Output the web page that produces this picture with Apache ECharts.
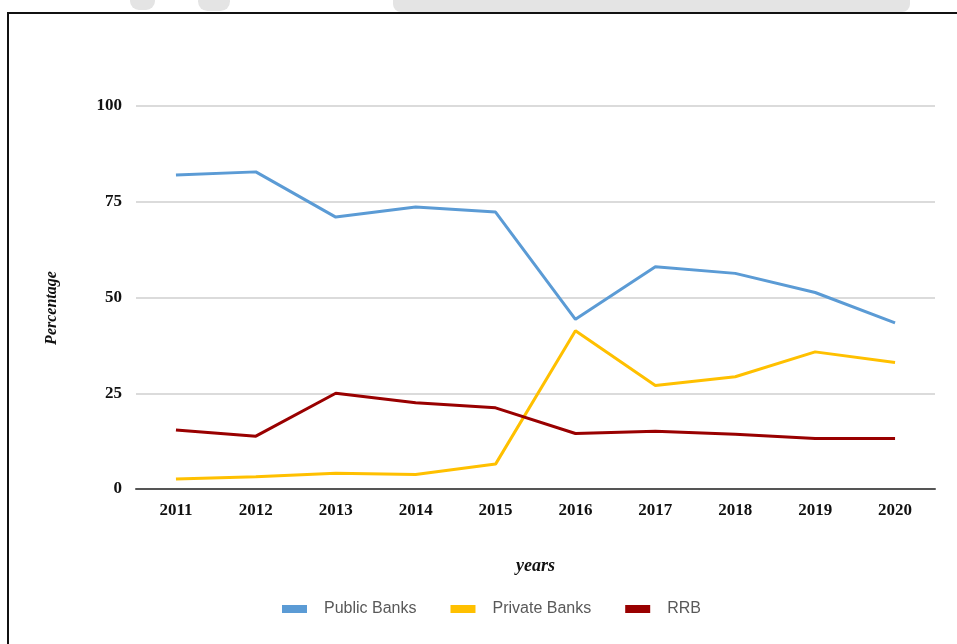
<!DOCTYPE html>
<html>
<head>
<meta charset="utf-8">
<script src="https://cdn.jsdelivr.net/npm/echarts@6/dist/echarts.min.js"></script>
<style>
html,body{margin:0;padding:0;background:#fff;}
#c{width:957px;height:644px;}
</style>
</head>
<body>
<div id="c"></div>
<script>
const years = ['2011','2012','2013','2014','2015','2016','2017','2018','2019','2020'];
const publicBanks = [82.0, 82.8, 71.0, 73.6, 72.3, 44.3, 58.0, 56.3, 51.3, 43.4];
const privateBanks = [2.6, 3.2, 4.1, 3.8, 6.5, 41.3, 27.0, 29.3, 35.8, 33.0];
const rrb = [15.4, 13.8, 25.0, 22.5, 21.2, 14.5, 15.1, 14.3, 13.2, 13.2];
const yTicks = [0, 25, 50, 75, 100];

const chart = echarts.init(document.getElementById('c'));
const serif = '"Liberation Serif", "DejaVu Serif", serif';
chart.setOption({
  animation: false,
  backgroundColor: '#fff',
  graphic: [
    {type:'rect', shape:{x:130,y:-8,width:25,height:18,r:12}, style:{fill:'#e4e4e4'}},
    {type:'rect', shape:{x:198,y:-8,width:32,height:19,r:12}, style:{fill:'#e4e4e4'}},
    {type:'rect', shape:{x:393,y:-8,width:517,height:20,r:8}, style:{fill:'#e4e4e4'}},
    {type:'rect', shape:{x:8,y:13,width:960,height:640}, style:{fill:'none', stroke:'#111', lineWidth:2}},
    {type:'text', x:52, y:308, rotation:Math.PI/2,
     style:{text:'Percentage', font:'italic bold 16px "Liberation Serif", serif', fill:'#111', align:'center', verticalAlign:'middle'}}
  ],
  grid: {left:136, right:22, top:106, bottom:155, containLabel:false},
  legend: {
    top: 596, left: 277,
    itemWidth: 25, itemHeight: 8, itemGap: 34,
    icon: 'rect',
    textStyle: {fontFamily:'"Liberation Sans", sans-serif', fontSize:16, color:'#595959', padding:[0,0,0,12]},
    data: ['Public Banks','Private Banks','RRB']
  },
  xAxis: {
    type:'category', data: years, boundaryGap:true,
    name:'years', nameLocation:'middle', nameGap:68,
    nameTextStyle:{fontFamily:serif, fontStyle:'italic', fontWeight:'bold', fontSize:18, color:'#111'},
    axisLine:{lineStyle:{color:'#555', width:2}},
    axisTick:{show:false},
    axisLabel:{fontFamily:serif, fontSize:17, fontWeight:'bold', color:'#111', margin:13}
  },
  yAxis: {
    type:'value', min:0, max:100, interval:25,
    axisLine:{show:false}, axisTick:{show:false},
    axisLabel:{fontFamily:serif, fontSize:17, fontWeight:'bold', color:'#111', margin:14,
      formatter: v => yTicks.includes(v) ? String(v) : ''},
    splitLine:{lineStyle:{color:'#cfcfcf', width:1.5}}
  },
  series: [
    {name:'Public Banks', type:'line', data: publicBanks, showSymbol:false, symbol:'none',
     lineStyle:{width:3, color:'#5B9BD5'}, itemStyle:{color:'#5B9BD5'}, z:3},
    {name:'Private Banks', type:'line', data: privateBanks, showSymbol:false, symbol:'none',
     lineStyle:{width:3, color:'#FFC000'}, itemStyle:{color:'#FFC000'}, z:3},
    {name:'RRB', type:'line', data: rrb, showSymbol:false, symbol:'none',
     lineStyle:{width:3, color:'#990000'}, itemStyle:{color:'#990000'}, z:3}
  ]
});
</script>
</body>
</html>
